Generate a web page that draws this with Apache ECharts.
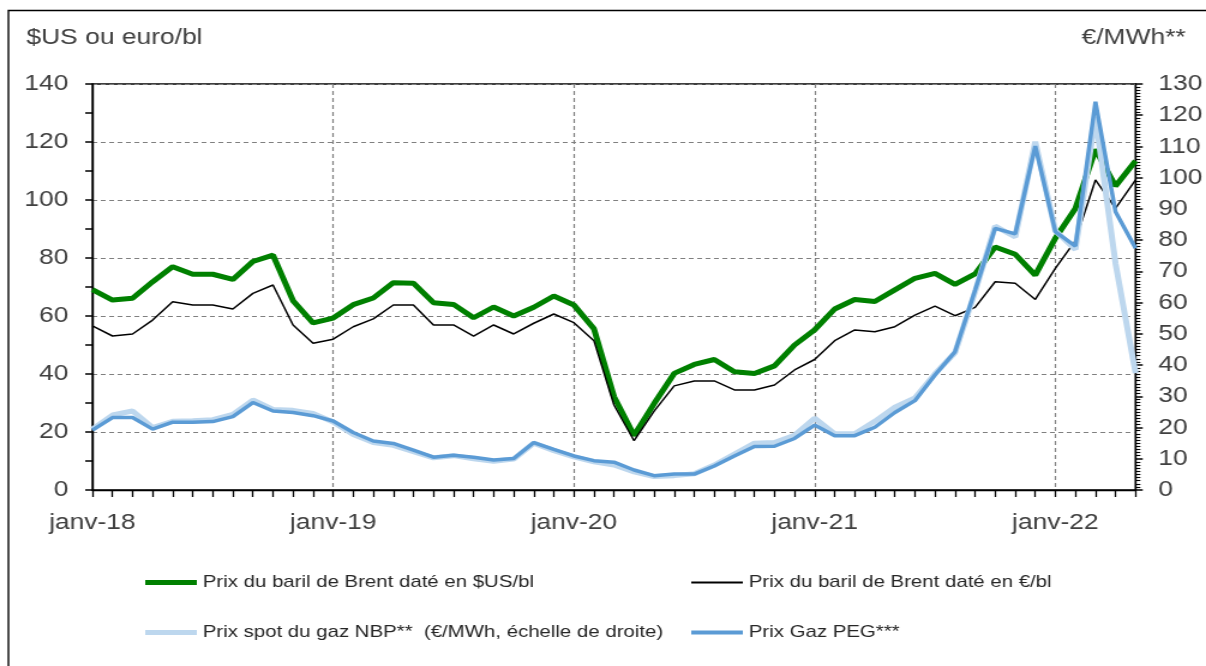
<!DOCTYPE html>
<html style="height: 100%">
<head>
  <meta charset="utf-8">
  <script src="https://cdn.jsdelivr.net/npm/echarts@6/dist/echarts.min.js"></script>
</head>
<body style="height: 100%; margin: 0; background: #fff; overflow: hidden;">
<!-- le graphique d'origine est étiré horizontalement (x1.2) : on dessine à 1005px puis on étire -->
<div id="container" style="width: 1005px; height: 666px; transform: scaleX(1.2); transform-origin: 0 0;"></div>
<script type="text/javascript">
// mois, janv-18 -> mai-22
var months = [
  'janv-18','févr-18','mars-18','avr-18','mai-18','juin-18','juil-18','août-18','sept-18','oct-18','nov-18','déc-18',
  'janv-19','févr-19','mars-19','avr-19','mai-19','juin-19','juil-19','août-19','sept-19','oct-19','nov-19','déc-19',
  'janv-20','févr-20','mars-20','avr-20','mai-20','juin-20','juil-20','août-20','sept-20','oct-20','nov-20','déc-20',
  'janv-21','févr-21','mars-21','avr-21','mai-21','juin-21','juil-21','août-21','sept-21','oct-21','nov-21','déc-21',
  'janv-22','févr-22','mars-22','avr-22','mai-22'
];

// Brent daté, $US/bl (échelle de gauche)
var brentUsd = [
  69.1, 65.5, 66.1, 71.8, 77.0, 74.4, 74.4, 72.6, 78.8, 81.0, 65.3, 57.6,
  59.3, 63.9, 66.2, 71.5, 71.3, 64.6, 64.0, 59.4, 63.1, 60.0, 63.0, 66.9,
  63.8, 55.6, 32.2, 18.8, 29.8, 40.2, 43.3, 45.0, 40.8, 40.2, 42.8, 50.0,
  55.2, 62.4, 65.7, 65.0, 69.0, 73.0, 74.7, 70.9, 74.5, 83.8, 81.3, 74.1,
  86.8, 97.1, 117.4, 104.8, 113.5
];

// Brent daté, €/bl (échelle de gauche)
var brentEur = [
  56.6, 53.1, 53.8, 58.6, 64.9, 63.8, 63.8, 62.4, 67.8, 70.7, 56.9, 50.6,
  52.0, 56.3, 59.0, 63.8, 63.8, 56.9, 56.9, 53.1, 56.9, 53.8, 57.5, 60.7,
  57.7, 51.5, 29.3, 17.0, 27.2, 35.9, 37.6, 37.6, 34.5, 34.5, 36.2, 41.4,
  45.0, 51.5, 55.2, 54.6, 56.3, 60.3, 63.4, 60.1, 63.0, 71.8, 71.3, 65.7,
  76.4, 86.0, 106.9, 97.1, 106.9
];

// gaz NBP, €/MWh (échelle de droite)
var nbpGas = [
  19.5, 24.0, 25.3, 20.0, 22.0, 22.2, 22.5, 24.2, 28.8, 25.8, 25.5, 24.5,
  21.8, 17.8, 15.2, 14.3, 12.3, 10.3, 11.0, 10.0, 9.2, 9.9, 15.0, 12.6,
  10.6, 9.0, 8.0, 5.8, 4.3, 4.6, 5.2, 8.0, 11.5, 15.0, 15.2, 17.5,
  23.0, 18.0, 18.0, 22.0, 26.5, 29.5, 37.2, 44.0, 63.5, 84.5, 81.0, 111.5,
  83.0, 77.0, 119.5, 72.6, 37.4
];

// gaz PEG, €/MWh (échelle de droite)
var pegGas = [
  19.2, 23.2, 23.2, 19.5, 21.7, 21.7, 21.9, 23.5, 28.0, 25.3, 24.8, 23.8,
  22.1, 18.4, 15.7, 14.9, 12.8, 10.5, 11.1, 10.5, 9.6, 10.1, 15.2, 13.0,
  10.9, 9.4, 8.9, 6.4, 4.6, 5.1, 5.1, 7.7, 10.9, 13.9, 14.0, 16.5,
  20.8, 17.4, 17.4, 20.1, 24.8, 28.6, 36.8, 44.3, 64.0, 83.8, 82.0, 110.1,
  82.7, 78.1, 124.3, 89.1, 77.4
];

var seriesNames = [
  'Prix du baril de Brent daté en $US/bl',
  'Prix du baril de Brent daté en €/bl',
  'Prix spot du gaz NBP**  (€/MWh, échelle de droite)',
  'Prix Gaz PEG***'
];

var font = 'Liberation Sans, Arial, sans-serif';
var txt = '#404040';

var myChart = echarts.init(document.getElementById('container'));

function isJan(i) { return i % 12 === 0; }

function legendFor(name, left, top, h, color) {
  return {
    data: [name],
    left: left, top: top,
    icon: 'rect',
    itemWidth: 43, itemHeight: h, itemGap: 4,
    selectedMode: false,
    itemStyle: { color: color },
    textStyle: { fontFamily: font, fontSize: 17, color: '#262626' }
  };
}

var option = {
  animation: false,
  backgroundColor: '#fff',
  textStyle: { fontFamily: font },
  graphic: [{
    type: 'rect', z: -1,
    shape: { x: 7, y: 10.5, width: 1100, height: 800 },
    style: { fill: 'none', stroke: '#000', lineWidth: 1.4 }
  }],
  title: [
    { text: '$US ou euro/bl', left: 17, top: 22, textStyle: { fontFamily: font, fontSize: 22, fontWeight: 'normal', color: txt } },
    { text: '€/MWh**', right: 12, top: 22, textStyle: { fontFamily: font, fontSize: 22, fontWeight: 'normal', color: txt } }
  ],
  legend: [
    legendFor(seriesNames[0], 116, 569, 5, '#008000'),
    legendFor(seriesNames[1], 571, 569, 2, '#000000'),
    legendFor(seriesNames[2], 116, 619, 5, '#BDD7EE'),
    legendFor(seriesNames[3], 571, 619, 4, '#5B9BD5')
  ],
  grid: {
    left: 77, right: 55, top: 84, bottom: 176,
    show: true, borderColor: '#000', borderWidth: 1.4
  },
  xAxis: [{
    type: 'category',
    data: months,
    boundaryGap: false,
    axisLine: { lineStyle: { color: '#000', width: 1.4 } },
    axisTick: { show: true, interval: 0, length: 7, lineStyle: { color: '#000', width: 1.3 } },
    axisLabel: {
      interval: function (i) { return isJan(i); },
      fontSize: 22, color: txt, margin: 22, fontFamily: font
    },
    splitLine: {
      show: true,
      interval: function (i) { return isJan(i) && i > 0; },
      lineStyle: { color: '#808080', type: [4, 3], width: 1.2 }
    }
  }],
  yAxis: [{
    type: 'value', position: 'left',
    min: 0, max: 140, interval: 20,
    axisLine: { show: true, lineStyle: { color: '#000', width: 1.4 } },
    axisTick: { show: true, length: 6, lineStyle: { color: '#000', width: 1.5 } },
    minorTick: { show: true, splitNumber: 2, length: 6, lineStyle: { color: '#000', width: 1.5 } },
    axisLabel: { fontSize: 22, color: txt, margin: 20, fontFamily: font },
    splitLine: { show: true, lineStyle: { color: '#808080', type: [4, 3], width: 1.2 } }
  }, {
    type: 'value', position: 'right',
    min: 0, max: 130, interval: 10,
    axisLine: { show: true, lineStyle: { color: '#000', width: 1.4 } },
    axisTick: { show: true, length: 6, lineStyle: { color: '#000', width: 1.5 } },
    minorTick: { show: true, splitNumber: 10, length: 4, lineStyle: { color: '#000', width: 1.1 } },
    axisLabel: { fontSize: 22, color: txt, margin: 19, fontFamily: font },
    splitLine: { show: false }
  }],
  series: [{
    name: seriesNames[0], type: 'line', yAxisIndex: 0,
    data: brentUsd, showSymbol: false, symbol: 'none',
    lineStyle: { color: '#008000', width: 5 }, itemStyle: { color: '#008000' }
  }, {
    name: seriesNames[1], type: 'line', yAxisIndex: 0,
    data: brentEur, showSymbol: false, symbol: 'none',
    lineStyle: { color: '#000000', width: 1.5 }, itemStyle: { color: '#000000' }
  }, {
    name: seriesNames[2], type: 'line', yAxisIndex: 1,
    data: nbpGas, showSymbol: false, symbol: 'none',
    lineStyle: { color: '#BDD7EE', width: 5 }, itemStyle: { color: '#BDD7EE' }
  }, {
    name: seriesNames[3], type: 'line', yAxisIndex: 1,
    data: pegGas, showSymbol: false, symbol: 'none',
    lineStyle: { color: '#5B9BD5', width: 3.5 }, itemStyle: { color: '#5B9BD5' }
  }]
};

myChart.setOption(option);
</script>
</body>
</html>
